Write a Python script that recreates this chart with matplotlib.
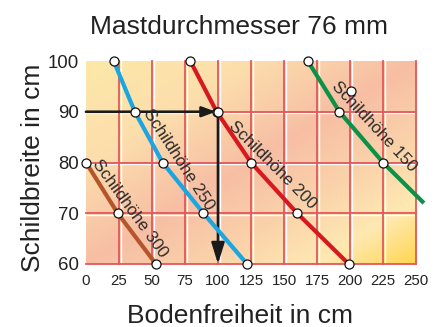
import matplotlib
matplotlib.use("Agg")
import matplotlib.pyplot as plt
import numpy as np
from matplotlib.colors import LinearSegmentedColormap
from matplotlib.transforms import offset_copy

plt.rcParams['font.family'] = ['Liberation Sans', 'DejaVu Sans']

# ---- data ----
title = "Mastdurchmesser 76 mm"
xlabel = "Bodenfreiheit in cm"
ylabel = "Schildbreite in cm"
x_ticks = [0, 25, 50, 75, 100, 125, 150, 175, 200, 225, 250]
y_ticks = [60, 70, 80, 90, 100]

brown_x = [0, 24, 53]
brown_y = [80, 70, 60]
blue_x = [21, 37, 58, 89, 122]
blue_y = [100, 90, 80, 70, 60]
red_x = [79, 99, 125, 160, 199]
red_y = [100, 90, 80, 70, 60]
green_x = [168, 192, 225, 256]
green_y = [100, 90, 80, 72]
green_mark_x = [168, 192, 225, 201]
green_mark_y = [100, 90, 80, 94]

labels = ["Schildhöhe 300", "Schildhöhe 250", "Schildhöhe 200", "Schildhöhe 150"]
label_x = [33.5, 70, 141.5, 218.5]
label_y = [71, 80.6, 79.5, 87]
label_rot = [-54, -57, -45, -47]

read_x = 100
read_y = 90

# ---- figure ----
fig = plt.figure(figsize=(4.44, 3.27), dpi=100)
ax = fig.add_axes([86/444, 1-264/327, 330/444, 203/327])
ax.set_xlim(0, 250)
ax.set_ylim(60, 100)

# background gradient
nx, ny = 300, 200
xn = np.linspace(0, 1, nx)
yn = np.linspace(1, 0, ny)
XN, YN = np.meshgrid(xn, yn)
U = (XN - YN + 1) / 2
cmap = LinearSegmentedColormap.from_list("bg", [
    (0.0, (253/255, 232/255, 168/255)),
    (0.25, (252/255, 222/255, 172/255)),
    (0.5, (247/255, 190/255, 164/255)),
    (0.68, (250/255, 210/255, 170/255)),
    (0.85, (255/255, 233/255, 178/255)),
    (1.0, (255/255, 214/255, 80/255)),
])
ax.imshow(U, cmap=cmap, extent=[0, 250, 60, 100], aspect='auto', zorder=0,
          interpolation='bilinear', vmin=0, vmax=1)

# grid: red line with white highlight
grid_red = '#e4575a'
off_r = offset_copy(ax.transData, fig=fig, x=1.6, y=0, units='dots')
off_d = offset_copy(ax.transData, fig=fig, x=0, y=-1.6, units='dots')
for gx in x_ticks[1:]:
    ax.plot([gx, gx], [60, 100], color='white', lw=1.0, transform=off_r, zorder=1, clip_on=False)
    ax.plot([gx, gx], [60, 100], color=grid_red, lw=1.3, zorder=1.5, clip_on=False)
for gy in y_ticks[:-1]:
    ax.plot([0, 250], [gy, gy], color='white', lw=1.0, transform=off_d, zorder=1, clip_on=False)
    ax.plot([0, 250], [gy, gy], color=grid_red, lw=1.3, zorder=1.5, clip_on=False)

# arrows
ax.annotate("", xy=(read_x - 1.5, read_y), xytext=(0, read_y),
            arrowprops=dict(arrowstyle='-|>,head_length=0.6,head_width=0.22', color='#1a1a1a',
                            lw=1.9, shrinkA=0, shrinkB=0, mutation_scale=14), zorder=3)
ax.annotate("", xy=(read_x, 60), xytext=(read_x, read_y),
            arrowprops=dict(arrowstyle='-|>,head_length=0.9,head_width=0.28', color='#1a1a1a',
                            lw=1.9, shrinkA=0, shrinkB=0, mutation_scale=14), zorder=3)

# curves
lw = 3.0
ax.plot(brown_x, brown_y, color='#b4552b', lw=lw, zorder=4, solid_capstyle='butt')
ax.plot(blue_x, blue_y, color='#1ba6e2', lw=lw, zorder=4, solid_capstyle='butt')
ax.plot(red_x, red_y, color='#d7191f', lw=lw, zorder=4, solid_capstyle='butt')
ax.plot(green_x, green_y, color='#0b9148', lw=lw, zorder=4, clip_on=False, solid_capstyle='butt')

mk = dict(ls='none', marker='o', ms=6.5, mfc='white', mec='#111111', mew=0.9, zorder=6, clip_on=False)
ax.plot(brown_x, brown_y, **mk)
ax.plot(blue_x, blue_y, **mk)
ax.plot(red_x, red_y, **mk)
ax.plot(green_mark_x, green_mark_y, **mk)
ax.plot([read_x], [read_y], **mk)

for t, lx, ly, r in zip(labels, label_x, label_y, label_rot):
    ax.text(lx, ly, t, rotation=r, rotation_mode='anchor', ha='center', va='center',
            fontsize=12.2, color='#2a2a2a', zorder=5)

# axes styling
for s in ax.spines.values():
    s.set_visible(False)
ax.set_xticks(x_ticks)
ax.set_xticklabels([str(v) for v in x_ticks], fontsize=10.8, color='#222222')
ax.set_yticks(y_ticks)
ax.set_yticklabels([str(v) for v in y_ticks], fontsize=13.4, color='#222222')
ax.tick_params(axis='both', length=0)
ax.tick_params(axis='x', pad=7)
ax.tick_params(axis='y', pad=5)

fig.text(239/444, 1-34/327, title, ha='center', va='baseline', fontsize=19, color='#222222')
fig.text(240/444, 1-323/327, xlabel, ha='center', va='baseline', fontsize=19, color='#222222')
fig.text(33/444, 1-168/327, ylabel, ha='center', va='center', rotation=90, fontsize=19, color='#222222')

fig.savefig("out.png", dpi=100)
